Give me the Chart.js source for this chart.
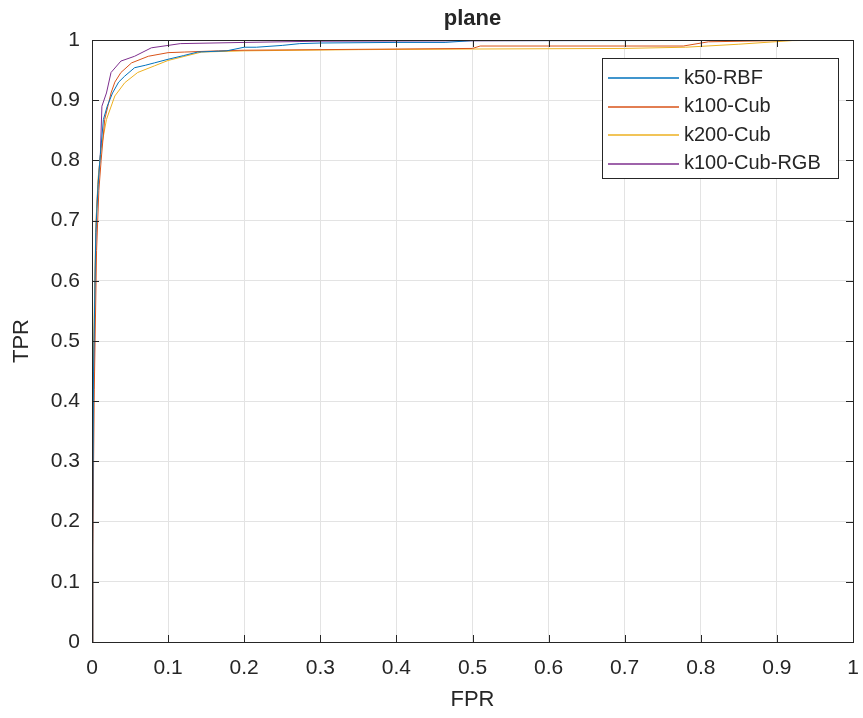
<!DOCTYPE html>
<html>
<head>
<meta charset="utf-8">
<script src="https://cdn.jsdelivr.net/npm/chart.js@4/dist/chart.umd.min.js"></script>
<style>
  html,body{margin:0;padding:0;background:#fff;}
  #wrap{width:863px;height:718px;}
</style>
</head>
<body>
<div id="wrap"><canvas id="roc" width="863" height="718"></canvas></div>
<script>
// ROC data (FPR -> TPR)
const seriesNames = ['k50-RBF', 'k100-Cub', 'k200-Cub', 'k100-Cub-RGB'];
const seriesColors = ['#0072BD', '#D95319', '#EDB120', '#7E2F8E'];

const rbfFpr = [0, 0.001, 0.002, 0.005, 0.008, 0.011, 0.015, 0.020, 0.027, 0.035, 0.043, 0.056, 0.070, 0.082, 0.100, 0.120, 0.139, 0.177, 0.200, 0.216, 0.250, 0.273, 0.300, 0.400, 0.464, 0.500, 0.700, 1];
const rbfTpr = [0, 0.180, 0.450, 0.680, 0.760, 0.810, 0.868, 0.890, 0.912, 0.930, 0.940, 0.954, 0.958, 0.962, 0.968, 0.974, 0.980, 0.982, 0.988, 0.988, 0.991, 0.994, 0.995, 0.996, 0.996, 0.999, 0.999, 1];

const cubFpr = [0, 0.001, 0.003, 0.006, 0.009, 0.012, 0.0167, 0.025, 0.030, 0.038, 0.052, 0.074, 0.100, 0.122, 0.166, 0.200, 0.300, 0.500, 0.510, 0.700, 0.777, 0.810, 0.900, 1];
const cubTpr = [0, 0.150, 0.420, 0.650, 0.750, 0.800, 0.868, 0.912, 0.930, 0.946, 0.962, 0.973, 0.979, 0.980, 0.982, 0.983, 0.984, 0.986, 0.990, 0.990, 0.990, 0.997, 0.999, 1];

const cub200Fpr = [0, 0.001, 0.002, 0.005, 0.008, 0.012, 0.019, 0.030, 0.043, 0.060, 0.082, 0.100, 0.144, 0.200, 0.350, 0.500, 0.700, 0.780, 0.850, 0.920, 1];
const cub200Tpr = [0, 0.200, 0.480, 0.690, 0.770, 0.820, 0.868, 0.907, 0.929, 0.946, 0.957, 0.966, 0.980, 0.982, 0.984, 0.985, 0.986, 0.988, 0.993, 0.999, 1];

const rgbFpr = [0, 0.001, 0.002, 0.004, 0.006, 0.009, 0.011, 0.013, 0.019, 0.025, 0.038, 0.056, 0.078, 0.100, 0.116, 0.200, 0.300, 0.600, 1];
const rgbTpr = [0, 0.160, 0.400, 0.600, 0.720, 0.780, 0.810, 0.890, 0.912, 0.946, 0.965, 0.973, 0.987, 0.991, 0.994, 0.996, 0.998, 0.999, 1];

const xTicks = [0, 0.1, 0.2, 0.3, 0.4, 0.5, 0.6, 0.7, 0.8, 0.9, 1];
const yTicks = [0, 0.1, 0.2, 0.3, 0.4, 0.5, 0.6, 0.7, 0.8, 0.9, 1];

const FONT = "'Liberation Sans', Arial, Helvetica, sans-serif";
const INK = '#262626';

function pts(xs, ys){ return xs.map((x,i)=>({x:x, y:ys[i]})); }
const allFpr = [rbfFpr, cubFpr, cub200Fpr, rgbFpr];
const allTpr = [rbfTpr, cubTpr, cub200Tpr, rgbTpr];

const datasets = seriesNames.map((name,i)=>({
  label: name,
  data: pts(allFpr[i], allTpr[i]),
  borderColor: seriesColors[i],
  backgroundColor: seriesColors[i],
  borderWidth: 1,
  pointRadius: 0,
  showLine: true,
  fill: false,
  tension: 0
}));

// box, inward ticks, title, axis titles, legend box
const decor = {
  id: 'decor',
  afterDatasetsDraw(chart){
    const {ctx, chartArea:a, scales} = chart;
    ctx.save();
    ctx.strokeStyle = INK; ctx.lineWidth = 1;
    ctx.strokeRect(a.left+0.5, a.top+0.5, a.right-a.left, a.bottom-a.top);
    const tl = 7;
    ctx.beginPath();
    xTicks.forEach(v=>{
      const x = Math.round(scales.x.getPixelForValue(v))+0.5;
      ctx.moveTo(x, a.bottom); ctx.lineTo(x, a.bottom-tl);
      ctx.moveTo(x, a.top); ctx.lineTo(x, a.top+tl);
    });
    yTicks.forEach(v=>{
      const y = Math.round(scales.y.getPixelForValue(v))+0.5;
      ctx.moveTo(a.left, y); ctx.lineTo(a.left+tl, y);
      ctx.moveTo(a.right, y); ctx.lineTo(a.right-tl, y);
    });
    ctx.stroke();

    // title
    ctx.fillStyle = INK;
    ctx.font = 'bold 22px ' + FONT;
    ctx.textAlign = 'center'; ctx.textBaseline = 'middle';
    ctx.fillText('plane', (a.left+a.right)/2, 19);

    // axis titles
    ctx.font = '22px ' + FONT;
    ctx.fillText('FPR', (a.left+a.right)/2, 700);
    ctx.save();
    ctx.translate(22, (a.top+a.bottom)/2);
    ctx.rotate(-Math.PI/2);
    ctx.fillText('TPR', 0, 0);
    ctx.restore();

    // legend
    const lx = 602, ly = 58, lw = 236, lh = 120;
    ctx.fillStyle = '#fff';
    ctx.fillRect(lx, ly, lw, lh);
    ctx.strokeStyle = INK;
    ctx.strokeRect(lx+0.5, ly+0.5, lw, lh);
    ctx.font = '20px ' + FONT;
    ctx.textAlign = 'left';
    chart.data.datasets.forEach((d,i)=>{
      const y = 78 + i*28.5;
      ctx.strokeStyle = d.borderColor; ctx.lineWidth = 1.3;
      ctx.beginPath(); ctx.moveTo(608, Math.round(y)); ctx.lineTo(679, Math.round(y)); ctx.stroke();
      ctx.fillStyle = INK;
      ctx.fillText(d.label, 684, y);
    });
    ctx.restore();
  }
};

new Chart(document.getElementById('roc'), {
  type: 'scatter',
  data: { datasets },
  options: {
    responsive: false,
    animation: false,
    layout: { padding: { top: 40, right: 10, left: 0, bottom: 0 } },
    plugins: { legend: { display: false }, title: { display: false }, tooltip: { enabled: false } },
    scales: {
      x: {
        type: 'linear', min: 0, max: 1,
        afterFit: s => { s.height = 76; s.paddingLeft = 0; s.paddingRight = 0; },
        afterBuildTicks: s => { s.ticks = xTicks.map(v=>({value:v})); },
        ticks: { color: INK, font: { size: 21, family: FONT }, padding: 14, maxRotation: 0,
                 callback: v => String(+v.toFixed(1)) },
        grid: { color: '#e3e3e3', drawTicks: false },
        border: { display: false }
      },
      y: {
        type: 'linear', min: 0, max: 1,
        afterFit: s => { s.width = 92; s.paddingTop = 0; s.paddingBottom = 0; },
        afterBuildTicks: s => { s.ticks = yTicks.map(v=>({value:v})); },
        ticks: { color: INK, font: { size: 21, family: FONT }, padding: 12,
                 callback: v => String(+v.toFixed(1)) },
        grid: { color: '#e3e3e3', drawTicks: false },
        border: { display: false }
      }
    }
  },
  plugins: [decor]
});
</script>
</body>
</html>
